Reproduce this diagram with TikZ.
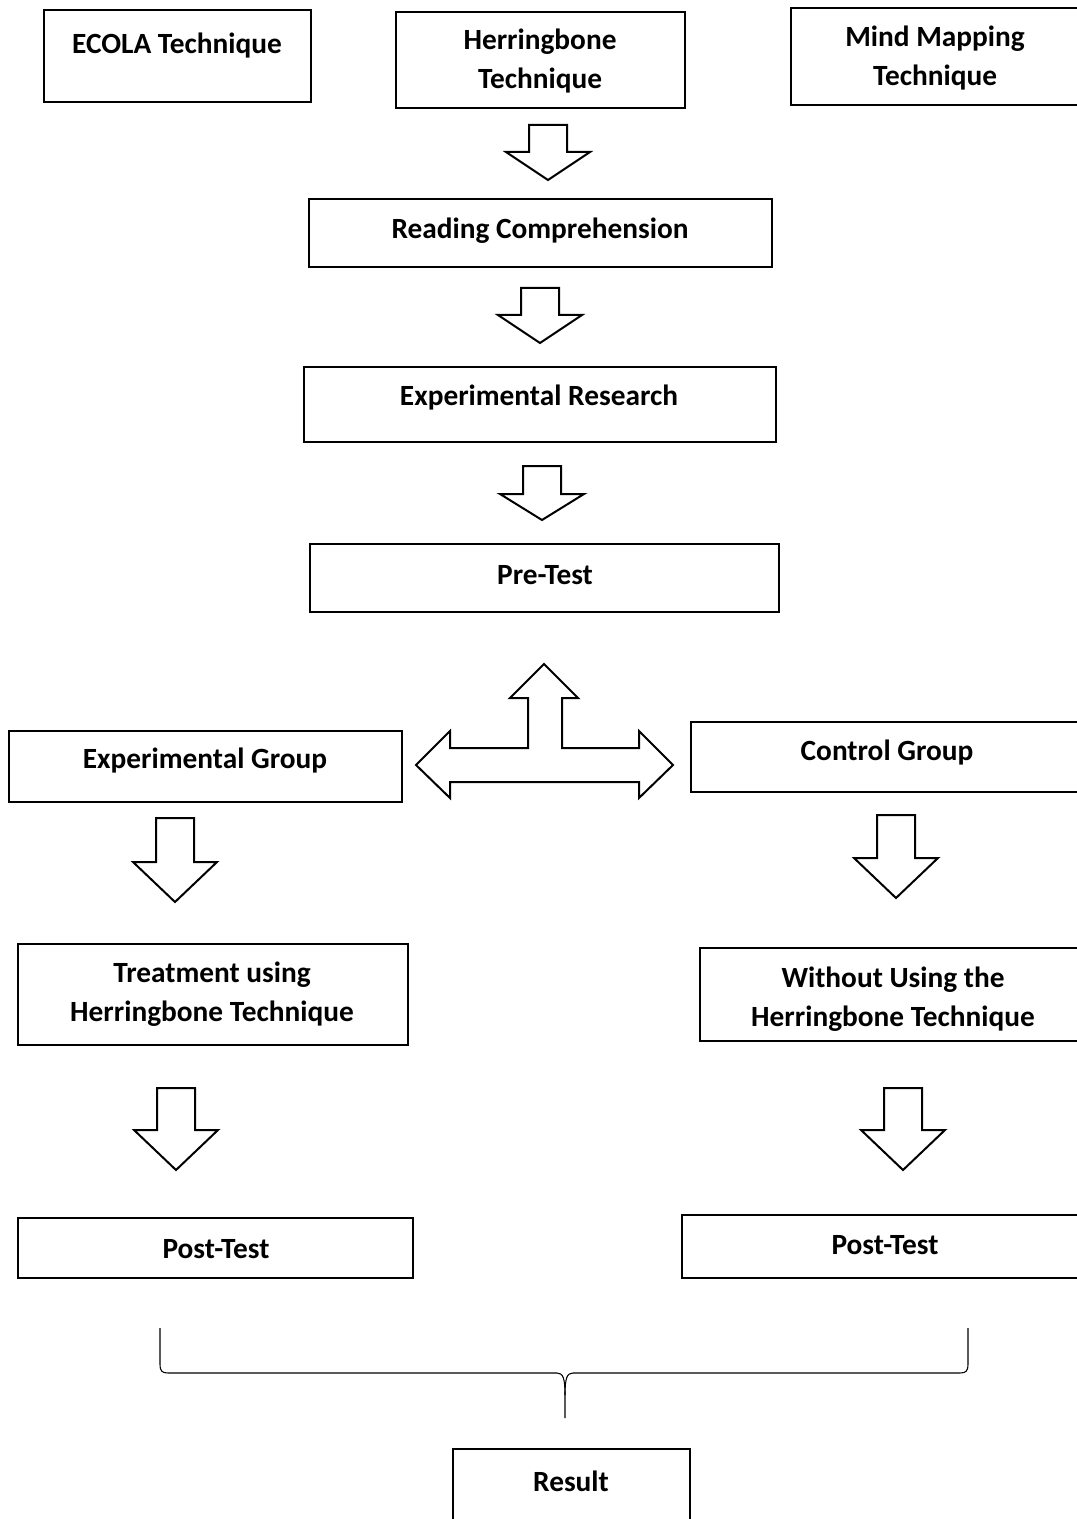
\documentclass[tikz,border=0pt]{standalone}
\usepackage{fontspec}
\setmainfont{Carlito}
\usetikzlibrary{fit}
\tikzset{
  box/.style={draw, line width=1.5pt, rectangle, inner sep=0pt},
  lbl/.style={font=\bfseries\fontsize{22}{29.25}\selectfont, align=center, inner sep=0pt},
  blk/.style={draw, line width=1.5pt, line join=miter, fill=white},
  brc/.style={draw, line width=0.8pt}
}
\newcommand\dnarrow[4]{%
  \draw[blk] ({#1-19},#2) -- ({#1+19},#2) -- ({#1+19},#3) -- ({#1+42},#3) -- (#1,#4) -- ({#1-42},#3) -- ({#1-19},#3) -- cycle;}
\begin{document}
\begin{tikzpicture}[x=0.75pt,y=-0.75pt]
\useasboundingbox (0,0) rectangle (1076,1519);
% top row
\node[box, fit={(44,10) (311,102)}] (ecola) {};
\node[lbl] at (177,46) {ECOLA Technique};
\node[box, fit={(396,12) (685,108)}] (herr) {};
\node[lbl] at (540,61.5) {Herringbone\\Technique};
\node[box, fit={(791,8) (1080,105)}] (mind) {};
\node[lbl] at (935,58.5) {Mind Mapping\\Technique};
\dnarrow{548}{125}{152}{180}
\node[box, fit={(309,199) (772,267)}] (read) {};
\node[lbl] at (540,231) {Reading Comprehension};
\dnarrow{540}{288}{315}{343}
\node[box, fit={(304,367) (776,442)}] (exres) {};
\node[lbl] at (539,398) {Experimental Research};
\dnarrow{542}{466}{494}{520}
\node[box, fit={(310,544) (779,612)}] (pre) {};
\node[lbl] at (545,575) {Pre-Test};
% three-way arrow
\draw[blk] (416,765) -- (450,731) -- (450,748) -- (528,748) -- (528,698) -- (510,698) -- (544,664) -- (578,698) -- (562,698) -- (562,748) -- (639,748) -- (639,731) -- (673,765) -- (639,798) -- (639,782) -- (450,782) -- (450,798) -- cycle;
% groups
\node[box, fit={(9,731) (402,802)}] (expg) {};
\node[lbl] at (205,761) {Experimental Group};
\node[box, fit={(691,722) (1084,792)}] (ctrl) {};
\node[lbl] at (887,753) {Control Group};
\dnarrow{175}{818}{862}{902}
\dnarrow{896}{815}{858}{898}
\node[box, fit={(18,944) (408,1045)}] (treat) {};
\node[lbl] at (212,994.5) {Treatment using\\Herringbone Technique};
\node[box, fit={(700,948) (1086,1041)}] (without) {};
\node[lbl] at (893,999) {Without Using the\\Herringbone Technique};
\dnarrow{176}{1088}{1130}{1170}
\dnarrow{903}{1088}{1130}{1170}
\node[box, fit={(18,1218) (413,1278)}] (postl) {};
\node[lbl] at (216,1249) {Post-Test};
\node[box, fit={(682,1215) (1088,1278)}] (postr) {};
\node[lbl] at (885,1245) {Post-Test};
% brace
\draw[brc] (160,1328) -- (160,1364) .. controls (160,1371) and (162,1373) .. (168,1373) -- (557,1373) .. controls (563,1373) and (565,1378) .. (565,1395) -- (565,1418);
\draw[brc] (565,1395) .. controls (565,1378) and (567,1373) .. (573,1373) -- (960,1373) .. controls (966,1373) and (968,1371) .. (968,1364) -- (968,1328);
\node[box, fit={(453,1449) (690,1530)}] (result) {};
\node[lbl] at (571,1481) {Result};
\end{tikzpicture}
\end{document}
